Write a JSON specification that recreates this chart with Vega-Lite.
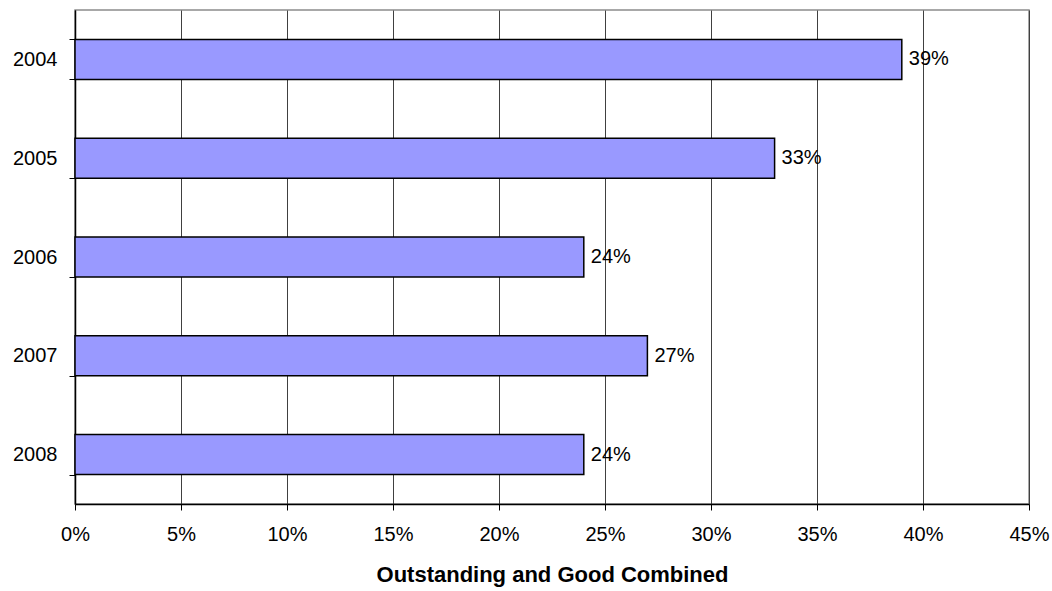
{
  "$schema": "https://vega.github.io/schema/vega-lite/v6.json",
  "width": 954,
  "height": 494,
  "autosize": {"type": "none"},
  "padding": {"left": 75, "top": 10, "right": 23, "bottom": 87},
  "background": "white",
  "config": {
    "font": "Liberation Sans",
    "view": {"stroke": "#8c8c8c", "strokeWidth": 1.5}
  },
  "data": {
    "values": [
      {"year": "2004", "value": 0.39},
      {"year": "2005", "value": 0.33},
      {"year": "2006", "value": 0.24},
      {"year": "2007", "value": 0.27},
      {"year": "2008", "value": 0.24}
    ]
  },
  "encoding": {
    "y": {
      "field": "year",
      "type": "nominal",
      "sort": null,
      "scale": {"paddingInner": 0.595, "paddingOuter": 0.2975},
      "axis": {
        "title": null,
        "grid": false,
        "tickBand": "extent",
        "domainColor": "black",
        "domainWidth": 1.5,
        "tickColor": "black",
        "tickSize": 6,
        "labelFontSize": 20,
        "labelColor": "black",
        "labelPadding": 12
      }
    },
    "x": {
      "field": "value",
      "type": "quantitative",
      "scale": {"domain": [0, 0.45], "nice": false},
      "axis": {
        "values": [0, 0.05, 0.1, 0.15, 0.2, 0.25, 0.3, 0.35, 0.4, 0.45],
        "format": ".0%",
        "title": "Outstanding and Good Combined",
        "titleFontSize": 22,
        "titleFontWeight": "bold",
        "titleColor": "black",
        "titlePadding": 20,
        "grid": true,
        "gridColor": "#404040",
        "gridWidth": 1,
        "gridOpacity": 1,
        "domainColor": "black",
        "domainWidth": 1.5,
        "tickColor": "black",
        "tickSize": 6,
        "labelFontSize": 20,
        "labelColor": "black",
        "labelPadding": 14,
        "labelFlush": false,
        "labelBound": false,
        "labelOverlap": false
      }
    }
  },
  "layer": [
    {
      "mark": {"type": "bar", "fill": "#9999ff", "stroke": "black", "strokeWidth": 1.5}
    },
    {
      "mark": {"type": "text", "align": "left", "baseline": "middle", "dx": 7, "fontSize": 20, "color": "black"},
      "encoding": {
        "text": {"field": "value", "type": "quantitative", "format": ".0%"}
      }
    }
  ]
}
